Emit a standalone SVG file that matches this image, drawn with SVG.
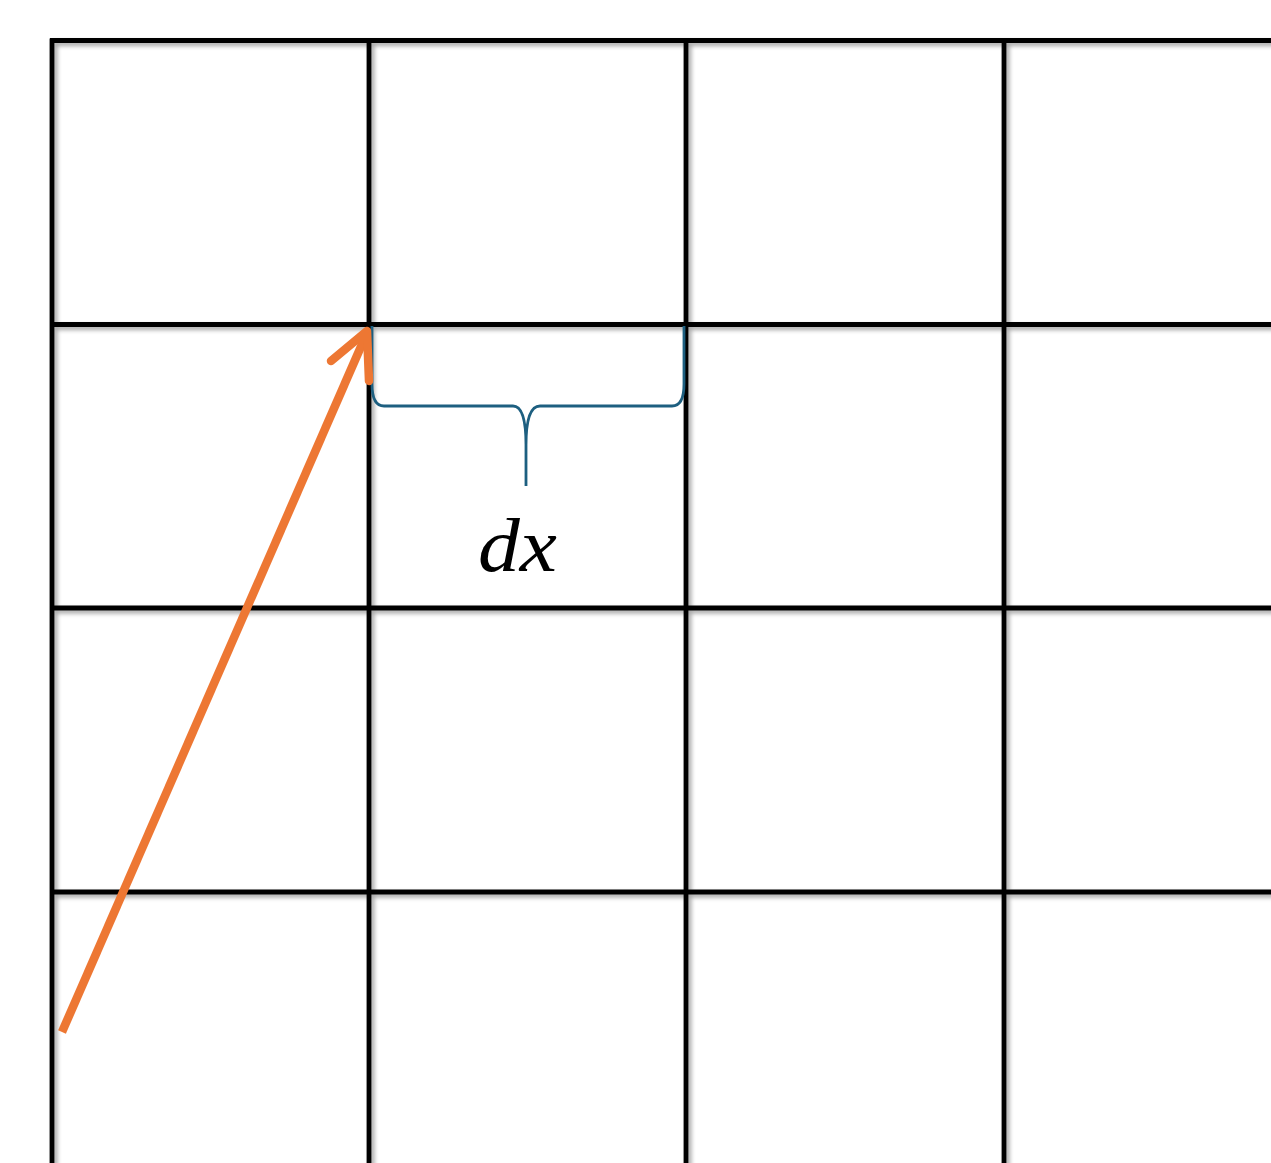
<svg xmlns="http://www.w3.org/2000/svg" width="1271" height="1163" viewBox="0 0 1271 1163">
<defs>
<filter id="sh" x="-5%" y="-5%" width="110%" height="110%">
<feDropShadow dx="3" dy="3" stdDeviation="2" flood-color="#000" flood-opacity="0.35"/>
</filter>
<style>
.g{stroke:#000;stroke-width:4.8;fill:none}
.br{stroke:#1d5f80;stroke-width:2.8;fill:none}
.ar{stroke:#ed7733;stroke-width:8.5;fill:none}
.t{font-family:"Liberation Serif",serif;font-style:italic;font-size:76px;fill:#000}
</style>
</defs>
<rect width="1271" height="1163" fill="#fff"/>
<g id="grid" filter="url(#sh)">
<path class="g" d="M50 40.5H1275M50 324.5H1275M50 608H1275M50 892H1275M52 38.5V1170M369 38.5V1170M686 38.5V1170M1004 38.5V1170"/>
</g>
<g id="brace">
<path class="br" d="M372 326V384Q372 406 384 406H513Q526 406 526 445V486M526 445Q526 406 540 406H672Q684 406 684 384V326"/>
</g>
<g id="label">
<text class="t" x="478" y="571" textLength="79" lengthAdjust="spacingAndGlyphs">dx</text>
</g>
<g id="connectors">
<path class="ar" d="M62 1032L366 335"/>
<path class="ar" stroke-linecap="round" stroke-linejoin="round" d="M331 361L367 331L369 381"/>
</g>
</svg>
